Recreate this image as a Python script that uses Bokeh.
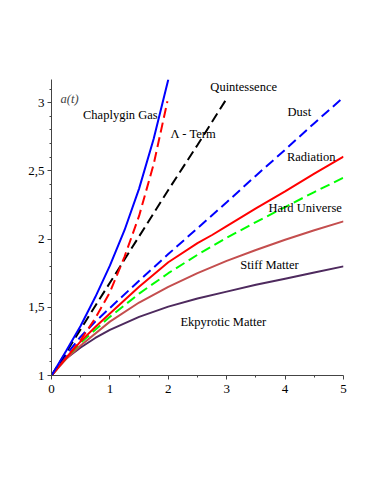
from bokeh.plotting import figure
from bokeh.models import Range1d, FixedTicker, Label
from bokeh.embed import file_html
from bokeh.resources import INLINE

# ---- data ----
t_chap = [0, 0.25, 0.5, 0.75, 1.0, 1.25, 1.5, 1.75, 2.0]
a_chap = [1, 1.18, 1.365, 1.575, 1.805, 2.065, 2.37, 2.735, 3.17]

t_quint = [0, 0.25, 0.5, 0.75, 1.0, 1.25, 1.5, 1.75, 1.985]
a_quint = [1, 1.13, 1.26, 1.42, 1.61, 1.87, 2.17, 2.55, 3.01]

t_lam = [0, 0.5, 1.0, 1.5, 2.0, 2.5, 3.0]
a_lam = [1, 1.34, 1.68, 2.02, 2.36, 2.69, 3.03]

t_dust = [0, 0.25, 0.5, 0.75, 1.0, 1.5, 2.0, 2.5, 3.0, 3.5, 4.0, 4.5, 5.0]
a_dust = [1, 1.15, 1.285, 1.395, 1.495, 1.695, 1.89, 2.08, 2.27, 2.465, 2.655, 2.85, 3.04]

t_rad = [0, 0.25, 0.5, 0.75, 1.0, 1.5, 2.0, 2.5, 2.75, 3.0, 3.5, 4.0, 4.5, 5.0]
a_rad = [1, 1.13, 1.25, 1.355, 1.455, 1.65, 1.83, 1.97, 2.03, 2.095, 2.225, 2.35, 2.48, 2.605]

t_hard = [0, 0.25, 0.5, 1.0, 1.5, 2.0, 2.5, 3.0, 3.5, 4.0, 4.5, 5.0]
a_hard = [1, 1.13, 1.24, 1.43, 1.60, 1.75, 1.885, 2.01, 2.125, 2.235, 2.345, 2.45]

t_stiff = [0, 0.25, 0.5, 1.0, 1.5, 2.0, 2.5, 3.0, 3.5, 4.0, 4.5, 5.0]
a_stiff = [1, 1.12, 1.22, 1.395, 1.535, 1.65, 1.75, 1.84, 1.92, 1.995, 2.065, 2.13]

t_ekp = [0, 0.1, 0.25, 0.5, 0.75, 1.0, 1.5, 2.0, 2.5, 3.0, 3.5, 4.0, 4.5, 5.0]
a_ekp = [1, 1.06, 1.125, 1.205, 1.275, 1.335, 1.43, 1.505, 1.565, 1.615, 1.665, 1.71, 1.755, 1.80]

x_ticks = [0, 1, 2, 3, 4, 5]
x_minor = [0.5, 1.5, 2.5, 3.5, 4.5]
y_ticks = [1, 1.5, 2, 2.5, 3]
y_tick_labels = ["1", "1,5", "2", "2,5", "3"]
y_minor = [1.1, 1.2, 1.3, 1.4, 1.6, 1.7, 1.8, 1.9, 2.1, 2.2, 2.3, 2.4,
           2.6, 2.7, 2.8, 2.9, 3.1]

curve_names = ["Chaplygin Gas", "Quintessence", "\u039b - Term", "Dust",
               "Radiation", "Hard Universe", "Stiff Matter", "Ekpyrotic Matter"]

FONT = "Liberation Serif"

p = figure(width=366, height=476, output_backend="svg", toolbar_location=None,
           x_range=Range1d(0, 5), y_range=Range1d(1, 3.17),
           min_border_left=51, min_border_right=23, min_border_top=79,
           min_border_bottom=101)
p.outline_line_color = None
p.xgrid.visible = False
p.ygrid.visible = False
p.background_fill_color = "white"

W = 2
DASH = "10 5"
p.line(t_ekp, a_ekp, line_color="#4e2a5e", line_width=W)
p.line(t_stiff, a_stiff, line_color="#c44e4e", line_width=W)
p.line(t_hard, a_hard, line_color="#00ff00", line_width=W, line_dash=DASH)
p.line(t_rad, a_rad, line_color="#ff0000", line_width=W)
p.line(t_dust, a_dust, line_color="#0000ff", line_width=W, line_dash=DASH)
p.line(t_lam, a_lam, line_color="#000000", line_width=W, line_dash=DASH)
p.line(t_quint, a_quint, line_color="#ff0000", line_width=W, line_dash=DASH)
p.line(t_chap, a_chap, line_color="#0000ff", line_width=W)

for ax in (p.xaxis[0], p.yaxis[0]):
    ax.axis_line_color = "#444444"
    ax.major_tick_line_color = "#444444"
    ax.minor_tick_line_color = "#444444"
    ax.major_tick_in = 0
    ax.major_tick_out = 4
    ax.minor_tick_in = 0
    ax.minor_tick_out = 2
    ax.major_label_text_font = FONT
    ax.major_label_text_font_size = "13px"
    ax.major_label_text_color = "black"

p.xaxis[0].ticker = FixedTicker(ticks=x_ticks, minor_ticks=x_minor)
p.xaxis[0].major_label_standoff = 5
p.yaxis[0].ticker = FixedTicker(ticks=y_ticks, minor_ticks=y_minor)
p.yaxis[0].major_label_overrides = {float(v): s for v, s in zip(y_ticks, y_tick_labels)}
p.yaxis[0].major_label_standoff = 3

label_pos = [(0.54, 2.909), (2.72, 3.117), (2.036, 2.769), (4.042, 2.929),
             (4.032, 2.603), (3.717, 2.231), (3.233, 1.808), (2.207, 1.391)]
for name, (x, y) in zip(curve_names, label_pos):
    p.add_layout(Label(x=x, y=y, text=name, text_font=FONT, text_font_size="12.5px",
                       text_baseline="middle", text_align="left", text_color="black"))

p.add_layout(Label(x=0.154, y=3.026, text="a(t)", text_font=FONT,
                   text_font_style="italic", text_font_size="12.5px",
                   text_baseline="middle", text_align="left"))
p.add_layout(Label(x=4.70, y=0.887, text="t", text_font=FONT,
                   text_font_style="italic", text_font_size="12.5px",
                   text_baseline="middle", text_align="center"))

open("out.html", "w").write(file_html(p, INLINE))
